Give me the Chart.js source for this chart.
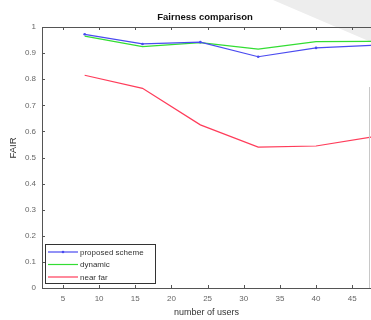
<!DOCTYPE html>
<html><head><meta charset="utf-8">
<script src="https://cdn.jsdelivr.net/npm/chart.js@4"></script>
<style>html,body{margin:0;padding:0;background:#fff}#c{display:block}</style>
</head><body>
<canvas id="c" width="371" height="320"></canvas>
<script>
const users = [8, 16, 24, 32, 40, 48];
const proposed = [0.972, 0.935, 0.942, 0.886, 0.92, 0.93];
const dynamic = [0.965, 0.925, 0.94, 0.915, 0.944, 0.945];
const nearFar = [0.815, 0.765, 0.625, 0.54, 0.544, 0.58];
const xTicks = [5, 10, 15, 20, 25, 30, 35, 40, 45];
const yTicks = [0, 0.1, 0.2, 0.3, 0.4, 0.5, 0.6, 0.7, 0.8, 0.9, 1];
const seriesNames = ['proposed scheme', 'dynamic', 'near far'];
const colors = ['#4a4af0', '#33dd33', '#ff3c5a'];

const toXY = arr => arr.map((v, i) => ({x: users[i], y: v}));
const TXT = '#666';
const FONT = 'Arial, "Liberation Sans", sans-serif';

const deco = {
  id: 'deco',
  beforeDraw(chart) {
    const ctx = chart.ctx;
    ctx.save();
    ctx.fillStyle = '#fff';
    ctx.fillRect(0, 0, chart.width, chart.height);
    ctx.fillStyle = '#ededed';
    ctx.beginPath();
    ctx.moveTo(273, 0); ctx.lineTo(371, 0); ctx.lineTo(371, 42); ctx.closePath();
    ctx.fill();
    ctx.restore();
  },
  afterDatasetsDraw(chart) {
    const ctx = chart.ctx, a = chart.chartArea;
    const xs = chart.scales.x, ys = chart.scales.y;
    ctx.save();
    ctx.strokeStyle = '#555';
    ctx.lineWidth = 1;
    ctx.beginPath();
    ctx.moveTo(a.left + 0.5, a.top + 0.5); ctx.lineTo(a.right, a.top + 0.5);
    ctx.moveTo(a.left + 0.5, a.top); ctx.lineTo(a.left + 0.5, a.bottom);
    ctx.moveTo(a.left, a.bottom + 0.5); ctx.lineTo(a.right, a.bottom + 0.5);
    xTicks.forEach(t => {
      const px = Math.round(xs.getPixelForValue(t)) + 0.5;
      ctx.moveTo(px, a.bottom); ctx.lineTo(px, a.bottom - 3);
      ctx.moveTo(px, a.top); ctx.lineTo(px, a.top + 3);
    });
    yTicks.forEach(t => {
      const py = Math.round(ys.getPixelForValue(t)) + 0.5;
      ctx.moveTo(a.left, py); ctx.lineTo(a.left + 3, py);
    });
    ctx.stroke();
    ctx.strokeStyle = '#c8c8c8';
    ctx.beginPath();
    ctx.moveTo(a.right - 1.5, a.top + 60); ctx.lineTo(a.right - 1.5, a.bottom);
    ctx.stroke();
    // title
    ctx.fillStyle = '#111';
    ctx.font = 'bold 9.5px ' + FONT;
    ctx.textAlign = 'center';
    ctx.textBaseline = 'middle';
    ctx.fillText('Fairness comparison', 205, 17);
    // y title
    ctx.save();
    ctx.translate(13, 148);
    ctx.rotate(-Math.PI / 2);
    ctx.fillStyle = '#333';
    ctx.font = '9.5px ' + FONT;
    ctx.fillText('FAIR', 0, 0);
    ctx.restore();
    // legend
    const lx = 45, ly = 244, lw = 110, lh = 39;
    ctx.fillStyle = '#fff';
    ctx.fillRect(lx, ly, lw, lh);
    ctx.strokeStyle = '#333';
    ctx.strokeRect(lx + 0.5, ly + 0.5, lw, lh);
    ctx.font = '8px ' + FONT;
    ctx.textAlign = 'left';
    seriesNames.forEach((n, i) => {
      const y = ly + 8 + i * 12.5;
      ctx.strokeStyle = colors[i];
      ctx.lineWidth = 1.2;
      ctx.beginPath(); ctx.moveTo(lx + 3, y); ctx.lineTo(lx + 33, y); ctx.stroke();
      if (i === 0) { ctx.fillStyle = colors[0]; ctx.beginPath(); ctx.arc(lx + 18, y, 1.3, 0, 7); ctx.fill(); }
      ctx.fillStyle = '#333';
      ctx.fillText(n, lx + 35, y + 0.5);
    });
    ctx.restore();
  }
};

new Chart(document.getElementById('c'), {
  type: 'line',
  data: {
    datasets: [
      {label: seriesNames[0], data: toXY(proposed), borderColor: colors[0], backgroundColor: colors[0], borderWidth: 1.2, pointRadius: 1.3, pointBorderWidth: 0, tension: 0},
      {label: seriesNames[1], data: toXY(dynamic), borderColor: colors[1], borderWidth: 1.2, pointRadius: 0, tension: 0},
      {label: seriesNames[2], data: toXY(nearFar), borderColor: colors[2], borderWidth: 1.2, pointRadius: 0, tension: 0}
    ]
  },
  options: {
    responsive: false,
    animation: false,
    devicePixelRatio: 1,
    layout: {autoPadding: false, padding: {left: 0, right: 0, top: 27, bottom: 0}},
    plugins: {legend: {display: false}, title: {display: false}, tooltip: {enabled: false}},
    scales: {
      x: {
        type: 'linear', min: 2.1, max: 47.6,
        afterBuildTicks: s => { s.ticks = xTicks.map(v => ({value: v})); },
        afterFit: s => { s.height = 32; s.paddingLeft = 0; s.paddingRight = 0; },
        grid: {display: false, drawTicks: false},
        border: {display: false},
        ticks: {color: TXT, font: {size: 8, family: FONT}, padding: 6, maxRotation: 0, autoSkip: false},
        title: {display: true, text: 'number of users', color: '#333', font: {size: 9, family: FONT}, padding: {top: 0, bottom: 2}}
      },
      y: {
        type: 'linear', min: 0, max: 1,
        afterBuildTicks: s => { s.ticks = yTicks.map(v => ({value: v})); },
        afterFit: s => { s.width = 42; s.paddingTop = 0; s.paddingBottom = 0; },
        grid: {display: false, drawTicks: false},
        border: {display: false},
        ticks: {color: TXT, font: {size: 8, family: FONT}, padding: 6, autoSkip: false, callback: v => String(Math.round(v * 10) / 10)},
        title: {display: false}
      }
    }
  },
  plugins: [deco]
});
</script>
</body></html>
